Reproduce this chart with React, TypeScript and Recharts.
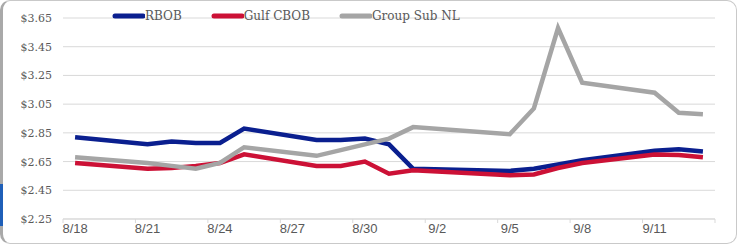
import React from 'react';
import { LineChart, Line, XAxis, YAxis, CartesianGrid, Legend } from 'recharts';

const dates = [
  '8/18', '8/19', '8/20', '8/21', '8/22', '8/23', '8/24', '8/25', '8/26',
  '8/27', '8/28', '8/29', '8/30', '8/31', '9/1', '9/2', '9/3', '9/4',
  '9/5', '9/6', '9/7', '9/8', '9/9', '9/10', '9/11', '9/12', '9/13',
];

// weekends / Labor Day have no price
const rbob = [
  2.82, null, null, 2.77, 2.79, 2.78, 2.78, 2.88, null, null, 2.8, 2.8, 2.81, 2.77,
  2.6, null, null, null, 2.585, 2.6, 2.63, 2.66, null, null, 2.725, 2.735, 2.72,
];
const gulfCbob = [
  2.64, null, null, 2.6, 2.605, 2.62, 2.64, 2.7, null, null, 2.62, 2.62, 2.65, 2.565,
  2.59, null, null, null, 2.555, 2.56, 2.605, 2.64, null, null, 2.7, 2.695, 2.68,
];
const groupSubNl = [
  2.68, null, null, 2.64, 2.62, 2.6, 2.64, 2.75, null, null, 2.69, 2.73, 2.77, 2.81,
  2.89, null, null, null, 2.84, 3.02, 3.58, 3.2, null, null, 3.13, 2.99, 2.98,
];

const yTicks = [2.25, 2.45, 2.65, 2.85, 3.05, 3.25, 3.45, 3.65];

const series = [
  { key: 'rbob', name: 'RBOB', color: '#0a1f8f' },
  { key: 'gulf', name: 'Gulf CBOB', color: '#cc1136' },
  { key: 'group', name: 'Group Sub NL', color: '#a5a5a5' },
];

const data = dates.map((d, i) => ({
  date: d,
  rbob: rbob[i],
  gulf: gulfCbob[i],
  group: groupSubNl[i],
}));

const W = 741;
const H = 247;
const PLOT_LEFT = 63;
const PLOT_RIGHT = 26;
const HALF_BAND = (W - PLOT_LEFT - PLOT_RIGHT) / dates.length / 2;

const XTick = (props: any) => {
  const { x, y, payload, index } = props;
  const show = index % 3 === 0;
  const last = index === dates.length - 1;
  return (
    <g>
      {show && <line x1={x - HALF_BAND} x2={x - HALF_BAND} y1={y - 8} y2={y - 4} stroke="#d9d9d9" />}
      {last && <line x1={x + HALF_BAND} x2={x + HALF_BAND} y1={y - 8} y2={y - 4} stroke="#d9d9d9" />}
      {show && (
        <text x={x} y={y + 6} textAnchor="middle" fill="#595959" fontSize={13} fontFamily="Liberation Sans">
          {payload.value}
        </text>
      )}
    </g>
  );
};

const YTick = (props: any) => {
  const { y, payload } = props;
  return (
    <text x={52} y={y + 4} textAnchor="end" fill="#595959" fontSize={11} fontFamily="DejaVu Serif">
      ${payload.value.toFixed(2)}
    </text>
  );
};

const LegendContent = () => (
  <div style={{ display: 'flex', alignItems: 'center', fontFamily: 'DejaVu Serif', fontSize: 12, color: '#595959' }}>
    {series.map((s) => (
      <div key={s.key} style={{ display: 'flex', alignItems: 'center', marginRight: 29 }}>
        <svg width={33} height={8}>
          <line x1={3} x2={31} y1={4} y2={4} stroke={s.color} strokeWidth={5} strokeLinecap="round" />
        </svg>
        <span>{s.name}</span>
      </div>
    ))}
  </div>
);

export default function App() {
  return (
    <div style={{ position: 'absolute', left: 0, top: 0, width: W, height: H, background: '#fff' }}>
      <div
        style={{
          position: 'absolute', left: 0, top: 0, width: W - 4, height: H - 3,
          border: '1px solid #c9c9c9', borderLeft: '3px solid #a9a9a9', borderRadius: 10, boxSizing: 'border-box',
        }}
      />
      <div style={{ position: 'absolute', left: 0, top: 184, width: 3, height: 42, background: '#1f5fb8' }} />
      <LineChart
        width={W}
        height={H}
        data={data}
        margin={{ top: 18, right: PLOT_RIGHT, bottom: 0, left: 0 }}
        style={{ position: 'absolute', left: 0, top: 0 }}
      >
        <CartesianGrid vertical={false} stroke="#d9d9d9" />
        <XAxis
          dataKey="date"
          interval={0}
          height={28}
          padding={{ left: HALF_BAND, right: HALF_BAND }}
          axisLine={{ stroke: '#d9d9d9' }}
          tickLine={false}
          tick={<XTick />}
        />
        <YAxis
          width={PLOT_LEFT}
          domain={[2.25, 3.65]}
          ticks={yTicks}
          axisLine={false}
          tickLine={false}
          tick={<YTick />}
        />
        <Legend
          verticalAlign="middle"
          align="center"
          content={<LegendContent />}
          wrapperStyle={{ top: 9, left: 112, width: 'auto' }}
        />
        {series.map((s) => (
          <Line
            key={s.key}
            dataKey={s.key}
            name={s.name}
            stroke={s.color}
            strokeWidth={4.5}
            dot={false}
            connectNulls
            isAnimationActive={false}
          />
        ))}
      </LineChart>
    </div>
  );
}
